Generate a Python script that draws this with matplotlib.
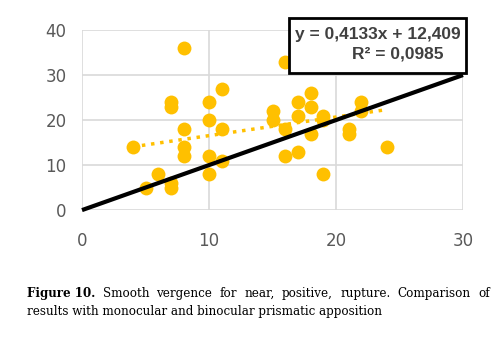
import numpy as np
import matplotlib.pyplot as plt
from matplotlib.patches import Rectangle

# data
x_vals = [4, 8, 7, 7, 10, 11, 10, 8, 11, 8, 8, 10, 11, 10, 6, 5, 7, 7,
          16, 21, 18, 18, 17, 17, 15, 15, 19, 19, 22, 22, 16, 18, 21, 21, 24, 17, 16, 19]
y_vals = [14, 36, 24, 23, 24, 27, 20, 18, 18, 14, 12, 12, 11, 8, 8, 5, 6, 5,
          33, 33, 26, 23, 24, 21, 22, 20, 21, 20, 24, 22, 18, 17, 18, 17, 14, 13, 12, 8]
slope, intercept, r2 = 0.4133, 12.409, 0.0985
x_ticks = [0, 10, 20, 30]
y_ticks = [0, 10, 20, 30, 40]

gold = '#FFC000'
grey = '#595959'

fig = plt.figure(figsize=(5, 3.45), dpi=100)
ax = fig.add_axes([0.164, 0.391, 0.762, 0.522])

ax.scatter(x_vals, y_vals, s=100, color=gold, zorder=3, linewidths=0)

# trendline of the scatter
xt = np.array([min(x_vals), max(x_vals)])
ax.plot(xt, slope * xt + intercept, color=gold, linestyle=':', lw=2.5, zorder=2)

# identity line
ax.plot([0, 30], [0, 30], color='black', lw=3, zorder=4, solid_capstyle='butt', clip_on=False)

ax.set_xlim(0, 30)
ax.set_ylim(0, 40)
ax.set_xticks(x_ticks)
ax.set_yticks(y_ticks)
ax.grid(True, color='#D9D9D9', lw=1.2)
ax.set_axisbelow(True)
for s in ax.spines.values():
    s.set_visible(False)
ax.tick_params(length=0, labelsize=12, labelcolor=grey)
ax.tick_params(axis='x', pad=16)
ax.tick_params(axis='y', pad=11)

# equation box
fig.patches.append(Rectangle((289 / 500, 1 - 73 / 345), 177 / 500, 55 / 345,
                             transform=fig.transFigure, facecolor='white',
                             edgecolor='black', lw=2, zorder=5))
fig.text(378 / 500, 1 - 34 / 345, 'y = 0,4133x + 12,409', ha='center', va='center',
         fontsize=12.5, fontweight='bold', color='#404040', family='Liberation Sans', zorder=6)
fig.text(398 / 500, 1 - 54 / 345, 'R² = 0,0985', ha='center', va='center',
         fontsize=12.5, fontweight='bold', color='#404040', family='Liberation Sans', zorder=6)

# caption, first line justified
fig.canvas.draw()
r = fig.canvas.get_renderer()
words = ['Figure 10.', 'Smooth', 'vergence', 'for', 'near,', 'positive,', 'rupture.',
         'Comparison', 'of']
left, right = 27, 490
cap_kw = dict(fontsize=8.6, family='DejaVu Serif', color='black', va='baseline')
texts = []
for w in words:
    t = fig.text(0, 1 - 297 / 345, w, fontweight='bold' if w == 'Figure 10.' else 'normal', **cap_kw)
    texts.append(t)
widths = [t.get_window_extent(r).width for t in texts]
gap = (right - left - sum(widths)) / (len(words) - 1)
xpos = left
for t, wd in zip(texts, widths):
    t.set_x(xpos / 500)
    xpos += wd + gap
fig.text(left / 500, 1 - 315 / 345, 'results with monocular and binocular prismatic apposition', **cap_kw)

fig.savefig('out.png', dpi=100)
